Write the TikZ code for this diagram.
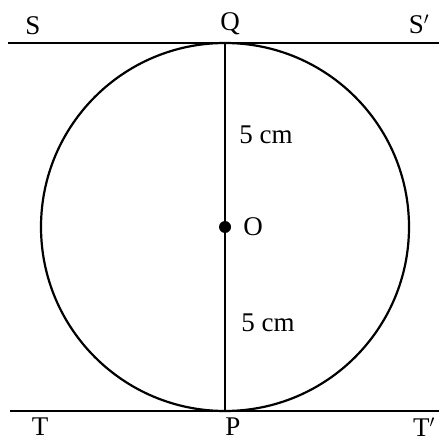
\documentclass[tikz,border=0pt]{standalone}
\usepackage{fontspec}
\setmainfont{Liberation Serif}
\usetikzlibrary{positioning}

\begin{document}
\begin{tikzpicture}[x=1pt, y=-1pt, line width=2.2pt,
    lbl/.style={font=\fontsize{27}{30}\selectfont, inner sep=0pt}]
    \useasboundingbox (0,0) rectangle (439,443);

    % centre, points of contact and ends of the tangents
    \coordinate (O) at (225,227);
    \coordinate (Q) at (225,43);
    \coordinate (P) at (225,411);
    \coordinate (S) at (8,43);
    \coordinate (S') at (439,43);
    \coordinate (T) at (10,411);
    \coordinate (T') at (439,411);

    \draw (O) circle [radius=184pt];
    \draw (S) -- (S');
    \draw (T) -- (T');
    \draw (Q) -- (P);
    \fill (O) circle [radius=6pt];

    % labels
    \node[lbl] (lS) at (33,26) {S};
    \node[lbl] (lQ) at (230,24) {Q};
    \node[lbl] (lS') at (419,24) {S$'$};
    \node[lbl] (lT) at (40,427) {T};
    \node[lbl] (lP) at (233,427) {P};
    \node[lbl] (lT') at (424,427) {T$'$};
    \node[lbl] (lO) at (253,227) {O};
    \node[lbl] (up) at (266,135) {5 cm};
    \node[lbl] (down) at (268,323) {5 cm};
\end{tikzpicture}
\end{document}
